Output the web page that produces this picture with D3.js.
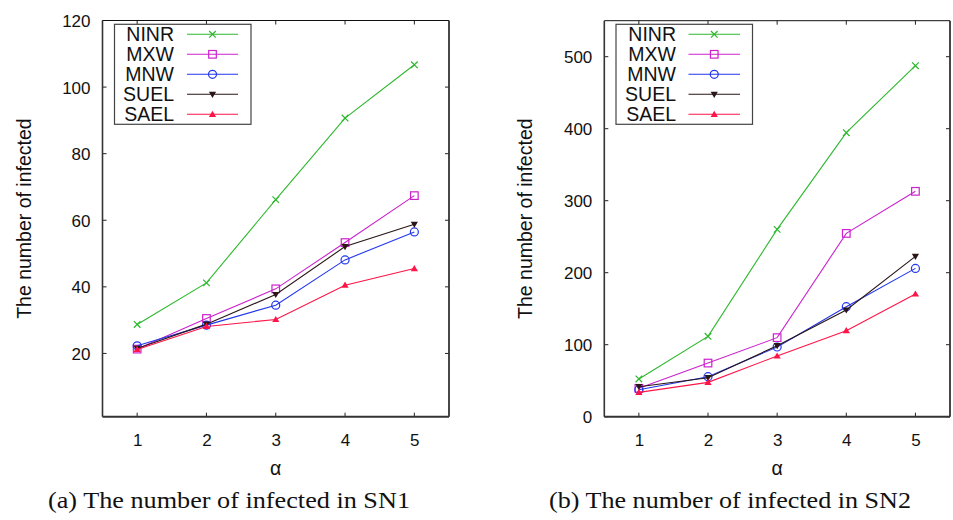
<!DOCTYPE html>
<html>
<head>
<meta charset="utf-8">
<script src="https://cdn.jsdelivr.net/npm/d3@7"></script>
<style>
  html, body { margin: 0; padding: 0; background: #fff; }
  svg { display: block; }
  .tick-label { font-family: "Liberation Sans", Arial, sans-serif; font-size: 17px; fill: #111; }
  .legend-label { font-family: "Liberation Sans", Arial, sans-serif; font-size: 19.5px; fill: #111; }
  .axis-title { font-family: "Liberation Sans", Arial, sans-serif; font-size: 19.5px; fill: #111; }
  .caption { font-family: "Liberation Serif", "DejaVu Serif", serif; font-size: 23px; fill: #111; }
</style>
</head>
<body>
<svg id="chart" width="953" height="520"></svg>
<script>
// α values on the x axis
const alphas = [1, 2, 3, 4, 5];
const seriesNames = ["NINR", "MXW", "MNW", "SUEL", "SAEL"];

// SN1: number of infected nodes
const sn1_NINR = [28.7, 41.2, 66.2, 90.7, 106.7];
const sn1_MXW  = [21.3, 30.5, 39.4, 53.3, 67.4];
const sn1_MNW  = [22.3, 28.5, 34.5, 48.1, 56.5];
const sn1_SUEL = [21.5, 28.8, 37.7, 52.1, 58.8];
const sn1_SAEL = [21.2, 28.1, 30.2, 40.5, 45.5];

// SN2: number of infected nodes
const sn2_NINR = [52.4, 111.6, 260.2, 394.5, 487.5];
const sn2_MXW  = [39.4, 74.5, 109.8, 254.6, 313.0];
const sn2_MNW  = [37.5, 55.6, 96.8, 152.8, 206.0];
const sn2_SUEL = [41.7, 54.2, 98.6, 148.2, 222.7];
const sn2_SAEL = [33.8, 47.7, 84.3, 119.5, 170.4];

// axis ticks
const xTicks = [1, 2, 3, 4, 5];
const sn1YTicks = [20, 40, 60, 80, 100, 120];
const sn2YTicks = [0, 100, 200, 300, 400, 500];

const styles = {
  NINR: { color: "#2cb82c", marker: "cross" },
  MXW:  { color: "#cc22cc", marker: "square" },
  MNW:  { color: "#2236ee", marker: "circle" },
  SUEL: { color: "#2a1616", marker: "down" },
  SAEL: { color: "#ff1447", marker: "up" }
};

const svg = d3.select("#chart");

function drawMarker(g, type, x, y, color) {
  if (type === "cross") {
    const s = 3.3;
    g.append("path")
      .attr("d", `M${x - s},${y - s}L${x + s},${y + s}M${x - s},${y + s}L${x + s},${y - s}`)
      .attr("stroke", color).attr("stroke-width", 1.2).attr("fill", "none");
  } else if (type === "square") {
    const s = 3.8;
    g.append("rect").attr("x", x - s).attr("y", y - s).attr("width", 2 * s).attr("height", 2 * s)
      .attr("stroke", color).attr("stroke-width", 1.2).attr("fill", "none");
  } else if (type === "circle") {
    g.append("circle").attr("cx", x).attr("cy", y).attr("r", 4)
      .attr("stroke", color).attr("stroke-width", 1.2).attr("fill", "none");
  } else if (type === "down") {
    g.append("path").attr("d", `M${x - 3.6},${y - 2.6}L${x + 3.6},${y - 2.6}L${x},${y + 3.6}Z`)
      .attr("fill", color);
  } else if (type === "up") {
    g.append("path").attr("d", `M${x - 3.6},${y + 2.6}L${x + 3.6},${y + 2.6}L${x},${y - 3.6}Z`)
      .attr("fill", color);
  }
}

function drawPanel(cfg) {
  const { left, right, top, bottom, yDomain, yTicks, series, legend, yLabelX, caption, captionX } = cfg;
  const x = d3.scaleLinear().domain([0.5, 5.5]).range([left, right]);
  const y = d3.scaleLinear().domain(yDomain).range([bottom, top]);
  const g = svg.append("g");
  const tickLen = 4;

  // mirrored inward ticks
  const tg = g.append("g").attr("stroke", "#222").attr("stroke-width", 1);
  xTicks.forEach(t => {
    tg.append("line").attr("x1", x(t)).attr("x2", x(t)).attr("y1", bottom).attr("y2", bottom - tickLen);
    tg.append("line").attr("x1", x(t)).attr("x2", x(t)).attr("y1", top).attr("y2", top + tickLen);
  });
  yTicks.forEach(t => {
    tg.append("line").attr("x1", left).attr("x2", left + tickLen).attr("y1", y(t)).attr("y2", y(t));
    tg.append("line").attr("x1", right).attr("x2", right - tickLen).attr("y1", y(t)).attr("y2", y(t));
  });

  // tick labels through D3 axes (domain paths and tick lines hidden)
  const xAxis = g.append("g").attr("transform", `translate(0,${bottom})`)
    .call(d3.axisBottom(x).tickValues(xTicks).tickSize(0).tickPadding(17).tickFormat(d3.format("d")));
  const yAxis = g.append("g").attr("transform", `translate(${left},0)`)
    .call(d3.axisLeft(y).tickValues(yTicks).tickSize(0).tickPadding(12).tickFormat(d3.format("d")));
  [xAxis, yAxis].forEach(a => {
    a.select(".domain").remove();
    a.selectAll("text").attr("class", "tick-label").attr("font-family", null).attr("font-size", null).attr("fill", null);
  });
  yAxis.selectAll("text").attr("dy", "0.36em");

  // data lines and markers
  const line = d3.line().x((d, i) => x(alphas[i])).y(d => y(d));
  seriesNames.forEach(name => {
    const st = styles[name];
    g.append("path").datum(series[name]).attr("d", line)
      .attr("fill", "none").attr("stroke", st.color).attr("stroke-width", 1.1);
    const mg = g.append("g");
    series[name].forEach((v, i) => drawMarker(mg, st.marker, x(alphas[i]), y(v), st.color));
  });

  // legend
  const lg = g.append("g");
  lg.append("rect").attr("x", legend.x).attr("y", legend.y).attr("width", legend.w).attr("height", legend.h)
    .attr("fill", "#fff").attr("stroke", "#444").attr("stroke-width", 1.2);
  seriesNames.forEach((name, i) => {
    const st = styles[name];
    const cy = legend.y + 10 + i * 20;
    lg.append("text").attr("class", "legend-label").attr("x", legend.textRight).attr("y", cy)
      .attr("dy", "0.36em").attr("text-anchor", "end").text(name);
    lg.append("line").attr("x1", legend.lineX1).attr("x2", legend.lineX2).attr("y1", cy).attr("y2", cy)
      .attr("stroke", st.color).attr("stroke-width", 1.1);
    drawMarker(lg, st.marker, (legend.lineX1 + legend.lineX2) / 2, cy, st.color);
  });

  // frame
  const fg = g.append("g").attr("fill", "none");
  fg.append("line").attr("x1", left).attr("x2", right).attr("y1", top).attr("y2", top).attr("stroke", "#111").attr("stroke-width", 1);
  fg.append("line").attr("x1", left).attr("x2", left).attr("y1", top).attr("y2", bottom).attr("stroke", "#333").attr("stroke-width", 1.6);
  fg.append("line").attr("x1", right).attr("x2", right).attr("y1", top).attr("y2", bottom).attr("stroke", "#333").attr("stroke-width", 1.8);
  fg.append("line").attr("x1", left).attr("x2", right).attr("y1", bottom).attr("y2", bottom).attr("stroke", "#333").attr("stroke-width", 2);

  // axis titles
  g.append("text").attr("class", "axis-title").attr("text-anchor", "middle")
    .attr("transform", `translate(${yLabelX},${(top + bottom) / 2}) rotate(-90)`)
    .attr("dy", "0.36em").text("The number of infected");
  g.append("text").attr("class", "axis-title").attr("text-anchor", "middle")
    .attr("x", x(3)).attr("y", 468).attr("dy", "0.36em").text("α");

  // subfigure caption, widened to the width of the roman caption font
  svg.append("text").attr("class", "caption").attr("text-anchor", "middle")
    .attr("x", captionX).attr("y", 500).attr("dy", "0.36em")
    .attr("textLength", 362).attr("lengthAdjust", "spacingAndGlyphs")
    .text(caption);
}

drawPanel({
  left: 102.5, right: 449, top: 20.5, bottom: 416.7,
  yDomain: [1, 120], yTicks: sn1YTicks,
  series: { NINR: sn1_NINR, MXW: sn1_MXW, MNW: sn1_MNW, SUEL: sn1_SUEL, SAEL: sn1_SAEL },
  legend: { x: 114.5, y: 24.3, w: 136.5, h: 100, textRight: 174, lineX1: 187, lineX2: 238 },
  yLabelX: 24, caption: "(a) The number of infected in SN1", captionX: 229
});

drawPanel({
  left: 604.3, right: 950, top: 20.7, bottom: 416.7,
  yDomain: [0, 550], yTicks: sn2YTicks,
  series: { NINR: sn2_NINR, MXW: sn2_MXW, MNW: sn2_MNW, SUEL: sn2_SUEL, SAEL: sn2_SAEL },
  legend: { x: 616, y: 24.3, w: 136.5, h: 100, textRight: 676, lineX1: 688.5, lineX2: 740 },
  yLabelX: 525, caption: "(b) The number of infected in SN2", captionX: 730
});
</script>
</body>
</html>
